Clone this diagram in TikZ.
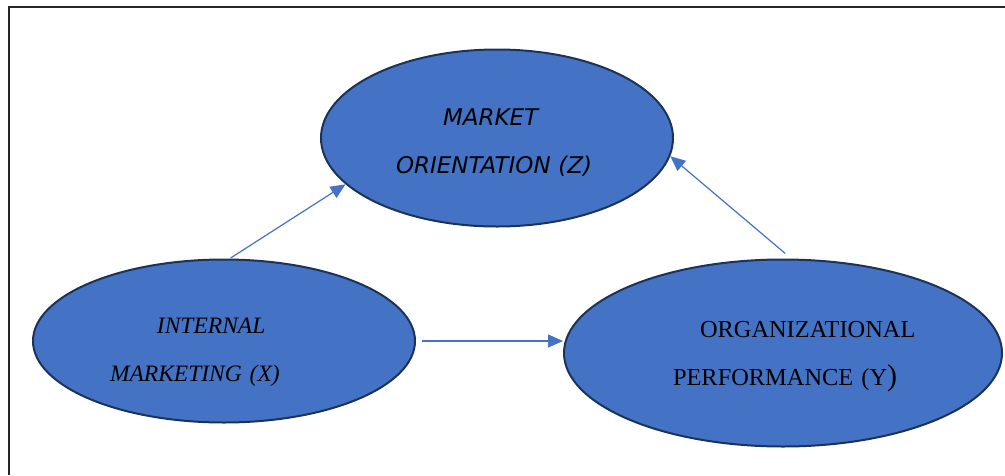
\documentclass[tikz,border=0pt]{standalone}
\usepackage{fontspec}
\setmainfont{Liberation Serif}
\newfontfamily\verdana{DejaVu Sans}
\usetikzlibrary{shapes.geometric,arrows.meta}
\usepackage{xcolor}

\definecolor{ovalblue}{HTML}{4472C4}
\definecolor{ovalline}{HTML}{1C3359}

\begin{document}
\begin{tikzpicture}[x=1pt, y=-1pt,
    oval/.style={draw=ovalline, line width=2pt, fill=ovalblue, ellipse, inner sep=0pt, align=left},
    link/.style={-{Triangle[length=15pt,width=13pt]}, draw=ovalblue, line width=1.2pt}]
    \useasboundingbox (0,0) rectangle (1005,475);
    \draw[line width=1.5pt, black!85] (1005,7) -- (9,7) -- (9,475);

    \node[oval, minimum width=352pt, minimum height=177pt, text width=202pt, font=\verdana\itshape\fontsize{23}{48}\selectfont] (mkt) at (497,138) {\rule{0pt}{26pt}\hspace*{47pt}MARKET\\ORIENTATION (Z)};
    \node[oval, minimum width=382pt, minimum height=163pt, text width=228pt, font=\itshape\fontsize{23.5}{48}\selectfont] (intm) at (224,341) {\rule{0pt}{37pt}\hspace*{47pt}INTERNAL\\MARKETING (X)};
    \node[oval, minimum width=438pt, minimum height=187pt, text width=280pt, font=\fontsize{24.4}{48}\selectfont] (perf) at (783,353) {\rule{0pt}{24pt}\hspace*{57pt}ORGANIZATIONAL\\\hspace*{30pt}PERFORMANCE (Y{\fontsize{30}{48}\selectfont )}};

    \draw[link, shorten <=1pt] (intm.86) -- (mkt.197);
    \draw[link, shorten <=6pt] (intm.east) -- (intm.east -| perf.west);
    \draw[link, shorten <=8pt] (perf.85) -- (mkt.354);
\end{tikzpicture}
\end{document}
